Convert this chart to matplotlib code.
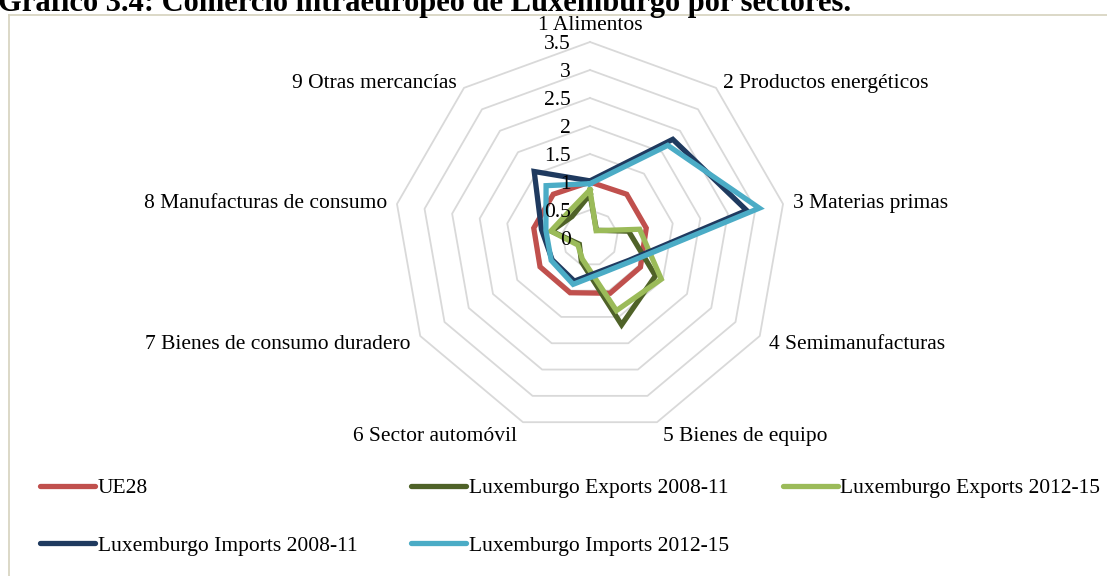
import numpy as np
import matplotlib.pyplot as plt
from matplotlib.lines import Line2D

plt.rcParams['font.family'] = ['Liberation Serif', 'DejaVu Serif']

categories = ['1 Alimentos', '2 Productos energéticos', '3 Materias primas',
              '4 Semimanufacturas', '5 Bienes de equipo', '6 Sector automóvil',
              '7 Bienes de consumo duradero', '8 Manufacturas de consumo',
              '9 Otras mercancías']
ue28 = [1.00, 1.02, 1.02, 1.04, 1.05, 1.04, 1.03, 1.02, 1.02]
exp_0811 = [0.78, 0.18, 0.70, 1.35, 1.65, 0.45, 0.22, 0.70, 0.50]
exp_1215 = [0.86, 0.17, 0.90, 1.47, 1.38, 0.40, 0.25, 0.71, 0.60]
imp_0811 = [1.02, 2.30, 2.84, 0.80, 0.62, 0.82, 0.78, 0.88, 1.55]
imp_1215 = [0.97, 2.16, 3.07, 0.84, 0.66, 0.88, 0.80, 0.80, 1.22]
ticks = [0, 0.5, 1, 1.5, 2, 2.5, 3, 3.5]
tick_labels = ['0', '0.5', '1', '1.5', '2', '2.5', '3', '3.5']

series = [
    ('UE28', ue28, '#C0504D'),
    ('Luxemburgo Exports 2008-11', exp_0811, '#4F6228'),
    ('Luxemburgo Exports 2012-15', exp_1215, '#9BBB59'),
    ('Luxemburgo Imports 2008-11', imp_0811, '#1F3A5F'),
    ('Luxemburgo Imports 2012-15', imp_1215, '#4BACC6'),
]

W, H = 1107, 576
FS = 15.5
fig = plt.figure(figsize=(W / 100, H / 100), dpi=100)

# axes placed in pixels: centre of radar at (590, 238) from top, 56 px per unit
cx, cy, ppu = 590, 238, 56.0
half_w, half_h = 250, 230
ax = fig.add_axes([(cx - half_w) / W, (H - cy - half_h) / H, 2 * half_w / W, 2 * half_h / H])
ax.set_xlim(-half_w / ppu, half_w / ppu)
ax.set_ylim(-half_h / ppu, half_h / ppu)
ax.axis('off')

n = len(categories)
ang = np.pi / 2 - 2 * np.pi * np.arange(n) / n
ux, uy = np.cos(ang), np.sin(ang)

def closed(v):
    v = np.asarray(v, dtype=float)
    return np.append(v * ux, v[0] * ux[0]), np.append(v * uy, v[0] * uy[0])

# polygon grid
for r in ticks[1:]:
    gx, gy = closed([r] * n)
    ax.plot(gx, gy, color='#D9D9D9', lw=1.3, zorder=1)

# radial tick labels (drawn over the series, as in the original)
for r, t in zip(ticks, tick_labels):
    ax.annotate(t, xy=(0, r), xytext=(-14, -1.5), textcoords='offset points',
                ha='right', va='center', fontsize=FS, color='black', zorder=6)

# category labels
offsets = [(0, 5), (5, 3), (7, 0), (7, -6), (4, -10), (-4, -10), (-7, -6), (-7, 0), (-5, 3)]
for k, lab in enumerate(categories):
    c = ux[k]
    ha = 'center' if abs(c) < 0.1 else ('left' if c > 0 else 'right')
    va = 'bottom' if k == 0 else 'center'
    ax.annotate(lab, xy=(3.5 * ux[k], 3.5 * uy[k]), xytext=offsets[k],
                textcoords='offset points', ha=ha, va=va, fontsize=FS,
                annotation_clip=False)

handles = {}
for name, vals, col in series:
    sx, sy = closed(vals)
    ax.plot(sx, sy, color=col, lw=3.8, solid_joinstyle='miter', zorder=3)
    handles[name] = Line2D([], [], color=col, lw=3.8, solid_capstyle='round')

order = ['UE28', 'Luxemburgo Imports 2008-11', 'Luxemburgo Exports 2008-11',
         'Luxemburgo Imports 2012-15', 'Luxemburgo Exports 2012-15']
fs_px = FS * 100 / 72
fig.legend([handles[o] for o in order], order, loc='upper left',
           bbox_to_anchor=(40 / W, 1 - 478 / H), ncol=3, frameon=False,
           fontsize=FS, handlelength=55 / fs_px, handletextpad=0.12,
           columnspacing=54 / fs_px, labelspacing=1.75, borderpad=0,
           borderaxespad=0)

# cropped title and chart border
fig.text(-2 / W, 1 - 11 / H, 'Gráfico 3.4: Comercio intraeuropeo de Luxemburgo por sectores.',
         fontsize=22, fontweight='bold', va='baseline', ha='left')
fig.add_artist(Line2D([8.5 / W, 8.5 / W], [0, 1 - 14.5 / H], color='#D6D2BE', lw=1.2,
                      transform=fig.transFigure))
fig.add_artist(Line2D([8.5 / W, 1], [1 - 14.5 / H, 1 - 14.5 / H], color='#D6D2BE', lw=1.2,
                      transform=fig.transFigure))

fig.savefig('out.png', dpi=100)
